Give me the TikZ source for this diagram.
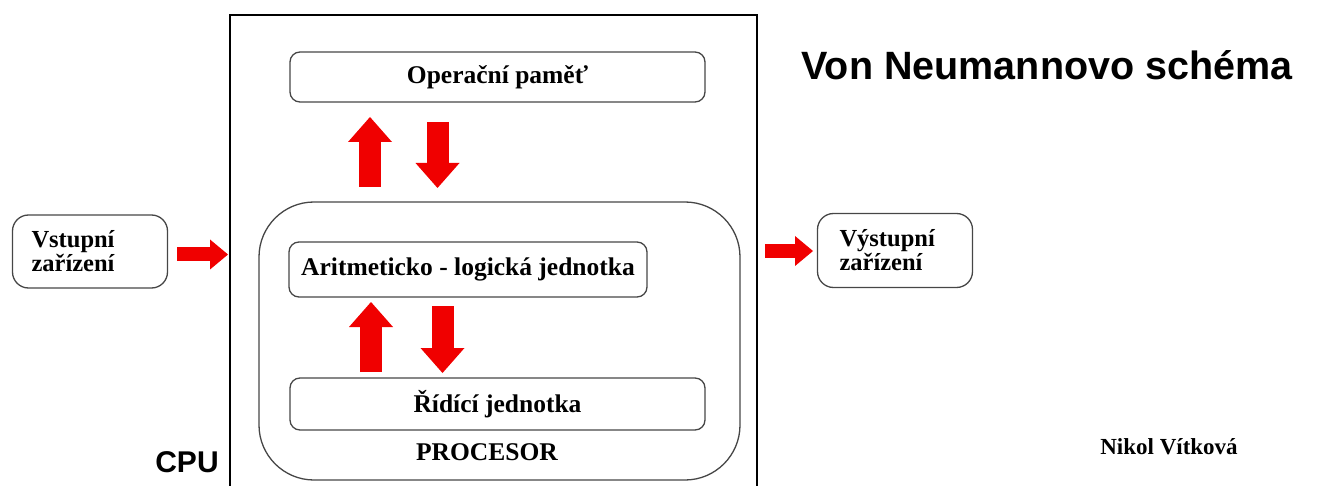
\documentclass[tikz,border=0pt]{standalone}
\usepackage{fontspec}
\setmainfont{Liberation Serif}
\setsansfont{Liberation Sans}
\usepackage{tikz}
\usetikzlibrary{arrows.meta}
\definecolor{arrowred}{RGB}{240,0,0}
\definecolor{boxgray}{RGB}{70,70,70}
\newcommand{\boxfont}{\bfseries\fontsize{25.5}{28}\selectfont}
\newcommand{\iofont}{\bfseries\fontsize{24.5}{24}\selectfont}

\tikzset{
  unitbox/.style={draw=boxgray, line width=1.3pt, rounded corners=10pt,
    inner sep=0pt, font=\boxfont},
  iobox/.style={draw=boxgray, line width=1.3pt, rounded corners=16pt,
    align=left, inner ysep=0pt, font=\iofont},
  bigarrow/.style={arrowred, line width=22pt,
    -{Triangle[length=25pt,width=44pt,line width=0pt]}},
  sidearrow/.style={arrowred, line width=14pt,
    -{Triangle[length=18pt,width=30pt,line width=0pt]}},
}

\begin{document}
\begin{tikzpicture}[x=1pt,y=-1pt]
        \useasboundingbox (0,0) rectangle (1322,486);
        \draw[line width=1.3pt] (230,486) |- (757,15) -- (757,486);
        \node[unitbox, minimum width=415pt, minimum height=50pt] (mem) at (497.5,77) {Operační paměť};
        \draw[boxgray, line width=1.3pt, rounded corners=55pt] (259,202) rectangle (740,480);
        \node[unitbox, minimum width=358pt, minimum height=55pt] (alu) at (468,269.5) {Aritmeticko - logická jednotka};
        \node[unitbox, minimum width=415pt, minimum height=52pt] (ctrl) at (497.5,404) {Řídící jednotka};
        \node[font=\boxfont] (proc) at (487,452) {PROCESOR};
        \node[iobox, text width=117pt, inner xsep=19pt, minimum height=73pt] (in) at (90,251.5) {Vstupní\\zařízení};
        \node[iobox, text width=111pt, inner xsep=22pt, minimum height=74pt] (out) at (895,250.5) {Výstupní\\zařízení};
        \coordinate (up1a) at (370,187);   \coordinate (up1b) at (370,117);
        \coordinate (dn1a) at (437.5,122); \coordinate (dn1b) at (437.5,188);
        \coordinate (up2a) at (371,372);   \coordinate (up2b) at (371,302);
        \coordinate (dn2a) at (442.5,306); \coordinate (dn2b) at (442.5,373);
        \coordinate (ina) at (177,254.5);  \coordinate (inb) at (228,254.5);
        \coordinate (outa) at (765,251);   \coordinate (outb) at (813,251);
        \draw[bigarrow] (up1a) -- (up1b);
        \draw[bigarrow] (dn1a) -- (dn1b);
        \draw[bigarrow] (up2a) -- (up2b);
        \draw[bigarrow] (dn2a) -- (dn2b);
        \draw[sidearrow] (ina) -- (inb);
        \draw[sidearrow] (outa) -- (outb);
        \node[font=\sffamily\bfseries\fontsize{39.5}{40}\selectfont] (title) at (1047,65) {Von Neumannovo schéma};
        \node[font=\sffamily\bfseries\fontsize{30}{30}\selectfont] (cpu) at (187,462) {CPU};
        \node[font=\bfseries\fontsize{23}{23}\selectfont] (author) at (1169,447) {Nikol Vítková};
      \end{tikzpicture}
\end{document}
